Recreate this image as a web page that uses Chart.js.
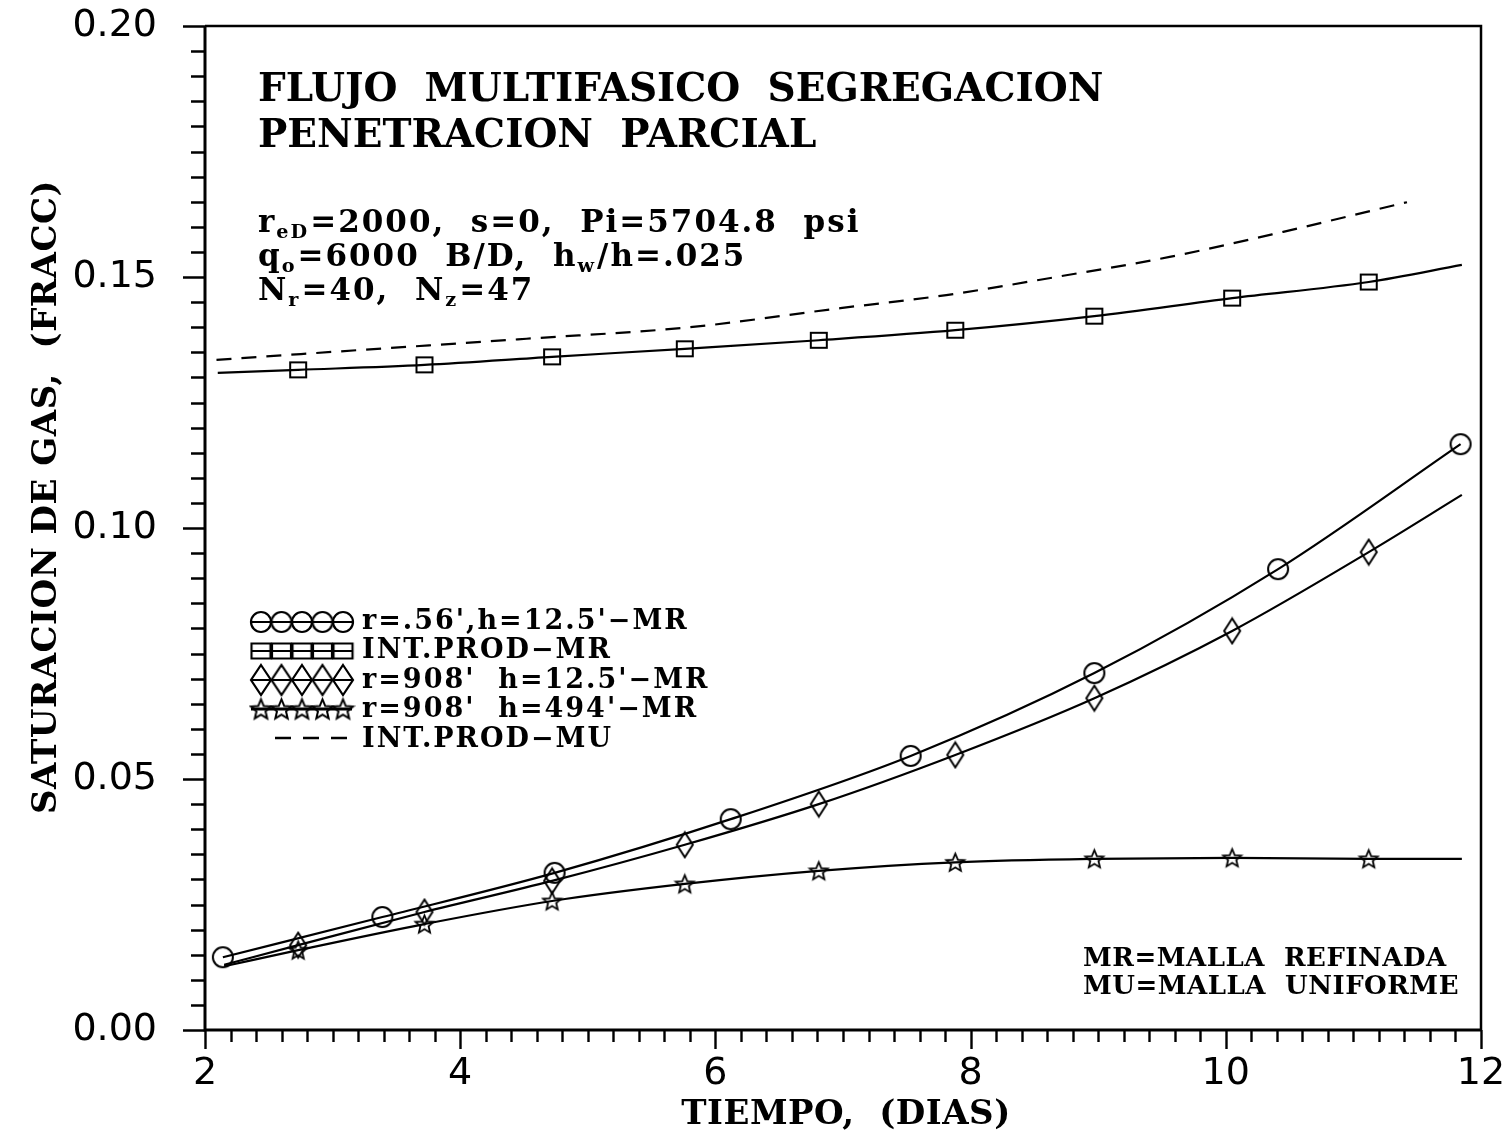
<!DOCTYPE html>
<html>
<head>
<meta charset="utf-8">
<script src="https://cdn.jsdelivr.net/npm/chart.js@4.4.1/dist/chart.umd.min.js"></script>
<style>
  html, body { margin: 0; padding: 0; background: #fff; }
  #wrap { width: 1504px; height: 1132px; }
</style>
</head>
<body>
<div id="wrap"><canvas id="c" width="1504" height="1132"></canvas></div>
<script>
// Tiempo (dias) vs saturacion de gas (fraccion)
const circleT  = [2.14, 3.39, 4.74, 6.12, 7.53, 8.97, 10.41, 11.84];
const circleSg = [0.0145, 0.0225, 0.0313, 0.0420, 0.0546, 0.0711, 0.0918, 0.1167];

const squareT  = [2.10, 2.73, 3.72, 4.72, 5.76, 6.81, 7.88, 8.97, 10.05, 11.12, 11.85];
const squareSg = [0.1309, 0.1315, 0.1325, 0.1341, 0.1357, 0.1374, 0.1394, 0.1422, 0.1458, 0.1490, 0.1524];

const diamondT  = [2.15, 2.73, 3.72, 4.72, 5.76, 6.81, 7.88, 8.97, 10.05, 11.12, 11.85];
const diamondSg = [0.0130, 0.0169, 0.0235, 0.0297, 0.0369, 0.0450, 0.0548, 0.0661, 0.0795, 0.0952, 0.1066];

const starT  = [2.15, 2.73, 3.72, 4.72, 5.76, 6.81, 7.88, 8.97, 10.05, 11.12, 11.85];
const starSg = [0.0127, 0.0159, 0.0211, 0.0257, 0.0291, 0.0317, 0.0334, 0.0341, 0.0343, 0.0341, 0.0341];

const dashT  = [2.09, 3.24, 4.52, 5.80, 6.98, 7.81, 8.67, 9.56, 10.45, 11.42];
const dashSg = [0.1335, 0.1355, 0.1377, 0.1400, 0.1438, 0.1464, 0.1500, 0.1540, 0.1590, 0.1649];

const seriesLabels = [
  "r=.56',h=12.5'\u2212MR",
  "INT.PROD\u2212MR",
  "r=908'  h=12.5'\u2212MR",
  "r=908'  h=494'\u2212MR",
  "INT.PROD\u2212MU"
];

const titleLines = ["FLUJO  MULTIFASICO  SEGREGACION", "PENETRACION  PARCIAL"];
const paramLines = [
  [{t: "r"}, {t: "eD", sub: true}, {t: "=2000,  s=0,  Pi=5704.8  psi"}],
  [{t: "q"}, {t: "o", sub: true}, {t: "=6000  B/D,  h"}, {t: "w", sub: true}, {t: "/h=.025"}],
  [{t: "N"}, {t: "r", sub: true}, {t: "=40,  N"}, {t: "z", sub: true}, {t: "=47"}]
];
const noteLines = ["MR=MALLA  REFINADA", "MU=MALLA  UNIFORME"];
const xTitle = "TIEMPO,  (DIAS)";
const yTitle = "SATURACION DE GAS,  (FRACC)";

const SERIF = '"DejaVu Serif", "Liberation Serif", serif';
const SANS = '"DejaVu Sans", "Liberation Sans", sans-serif';

// hollow marker glyphs drawn on small canvases
function marker(kind, w, h, lw) {
  const c = document.createElement('canvas');
  c.width = Math.ceil(w + 4);
  c.height = Math.ceil(h + 4);
  const g = c.getContext('2d');
  g.strokeStyle = '#000';
  g.lineWidth = lw || 2;
  g.lineJoin = 'miter';
  g.translate(c.width / 2, c.height / 2);
  g.beginPath();
  if (kind === 'circle') {
    g.arc(0, 0, w / 2, 0, Math.PI * 2);
  } else if (kind === 'rect') {
    g.rect(-w / 2, -h / 2, w, h);
  } else if (kind === 'diamond') {
    g.moveTo(0, -h / 2); g.lineTo(w / 2, 0); g.lineTo(0, h / 2); g.lineTo(-w / 2, 0); g.closePath();
  } else if (kind === 'star') {
    const R = w / 2, r = R * 0.45;
    for (let i = 0; i < 10; i++) {
      const a = -Math.PI / 2 + i * Math.PI / 5;
      const rr = i % 2 === 0 ? R : r;
      const px = Math.cos(a) * rr, py = Math.sin(a) * rr + R * 0.08;
      if (i === 0) g.moveTo(px, py); else g.lineTo(px, py);
    }
    g.closePath();
  }
  g.stroke();
  return c;
}

const plotMarks = {
  circle: marker('circle', 20, 20, 2),
  rect: marker('rect', 16, 15, 2),
  diamond: marker('diamond', 16, 25, 2),
  star: marker('star', 19, 19, 1.8)
};
const legendMarks = {
  circle: marker('circle', 20, 20, 2.2),
  rect: marker('rect', 19, 15, 2.2),
  diamond: marker('diamond', 20, 30, 2.2),
  star: marker('star', 21, 21, 2)
};

function pts(xs, ys) { return xs.map((x, i) => ({x: x, y: ys[i]})); }
function innerRadii(n) { return Array.from({length: n}, (_, i) => (i === 0 || i === n - 1) ? 0 : 6); }

const lineBase = {
  borderColor: '#000',
  borderWidth: 2.2,
  cubicInterpolationMode: 'monotone',
  fill: false,
  pointBorderColor: '#000',
  pointBackgroundColor: 'rgba(0,0,0,0)',
  pointHoverRadius: 0
};

const datasets = [
  Object.assign({}, lineBase, {label: seriesLabels[0], data: pts(circleT, circleSg), pointStyle: plotMarks.circle, pointRadius: 6, legendKind: 'circle'}),
  Object.assign({}, lineBase, {label: seriesLabels[1], data: pts(squareT, squareSg), pointStyle: plotMarks.rect, pointRadius: innerRadii(squareT.length), legendKind: 'rect'}),
  Object.assign({}, lineBase, {label: seriesLabels[2], data: pts(diamondT, diamondSg), pointStyle: plotMarks.diamond, pointRadius: innerRadii(diamondT.length), legendKind: 'diamond'}),
  Object.assign({}, lineBase, {label: seriesLabels[3], data: pts(starT, starSg), pointStyle: plotMarks.star, pointRadius: innerRadii(starT.length), legendKind: 'star'}),
  Object.assign({}, lineBase, {label: seriesLabels[4], data: pts(dashT, dashSg), pointRadius: 0, borderDash: [15, 10], legendKind: 'dash'})
];

function drawRich(ctx, parts, x, y, size) {
  let cx = x;
  for (const p of parts) {
    const s = p.sub ? size * 0.62 : size;
    ctx.font = 'bold ' + s + 'px ' + SERIF;
    ctx.fillText(p.t, cx, p.sub ? y + size * 0.2 : y);
    cx += ctx.measureText(p.t).width + (p.sub ? 1 : 0);
  }
}

// scales keep no extra label padding so the plot box sits where the layout puts it
function noPad(s) { s.paddingTop = 0; s.paddingBottom = 0; s.paddingLeft = 0; s.paddingRight = 0; }

const decor = {
  id: 'decor',
  afterDraw(chart) {
    const ctx = chart.ctx;
    const a = chart.chartArea;
    const xs = chart.scales.x, ys = chart.scales.y;
    ctx.save();
    ctx.strokeStyle = '#000';
    ctx.fillStyle = '#000';
    ctx.lineCap = 'butt';

    // frame
    ctx.lineWidth = 3;
    ctx.beginPath();
    ctx.moveTo(a.left, a.top); ctx.lineTo(a.left, a.bottom); ctx.lineTo(a.right, a.bottom);
    ctx.stroke();
    ctx.lineWidth = 2.5;
    ctx.beginPath();
    ctx.moveTo(a.left, a.top); ctx.lineTo(a.right, a.top); ctx.lineTo(a.right, a.bottom);
    ctx.stroke();

    // tick marks: y every 0.005, x every 0.2
    ctx.lineWidth = 2.4;
    ctx.beginPath();
    for (let i = 0; i <= 40; i++) {
      const y = Math.round(ys.getPixelForValue(i * 0.005)) + 0.5;
      const len = i % 10 === 0 ? 22 : 14;
      ctx.moveTo(a.left - len, y); ctx.lineTo(a.left, y);
    }
    for (let i = 0; i <= 50; i++) {
      const x = Math.round(xs.getPixelForValue(2 + i * 0.2)) + 0.5;
      const len = i % 10 === 0 ? 19 : 12;
      ctx.moveTo(x, a.bottom); ctx.lineTo(x, a.bottom + len);
    }
    ctx.stroke();

    // title block
    ctx.textAlign = 'left';
    ctx.textBaseline = 'alphabetic';
    ctx.font = 'bold 39px ' + SERIF;
    ctx.letterSpacing = '0px';
    ctx.fillText(titleLines[0], 258, 101);
    ctx.fillText(titleLines[1], 258, 147);

    ctx.letterSpacing = '2px';
    paramLines.forEach((parts, i) => drawRich(ctx, parts, 258, 232 + i * 34, 31));

    ctx.letterSpacing = '0.5px';
    ctx.font = 'bold 26px ' + SERIF;
    ctx.fillText(noteLines[0], 1083, 966);
    ctx.fillText(noteLines[1], 1083, 994);

    // legend
    const rowsY = [622, 651, 680, 709, 738];
    const baseY = [629, 658, 688, 717, 747];
    chart.data.datasets.forEach((ds, i) => {
      const y = rowsY[i];
      if (ds.legendKind === 'dash') {
        ctx.lineWidth = 2.4;
        ctx.beginPath();
        [275, 303, 331].forEach(x0 => { ctx.moveTo(x0, y); ctx.lineTo(x0 + 16, y); });
        ctx.stroke();
      } else {
        ctx.lineWidth = ds.legendKind === 'star' ? 3 : 2;
        ctx.beginPath(); ctx.moveTo(251, y); ctx.lineTo(352, y); ctx.stroke();
        const img = legendMarks[ds.legendKind];
        for (let k = 0; k < 5; k++) {
          const cx = 261 + k * 20.5;
          ctx.drawImage(img, cx - img.width / 2, y - img.height / 2);
        }
      }
      ctx.font = 'bold 27px ' + SERIF;
      ctx.letterSpacing = '2px';
      ctx.fillText(ds.label, 362, baseY[i]);
    });

    // axis titles
    ctx.letterSpacing = '0.5px';
    ctx.textAlign = 'center';
    ctx.font = 'bold 34px ' + SERIF;
    ctx.fillText(xTitle, 846, 1124);
    ctx.save();
    ctx.translate(56, 497);
    ctx.rotate(-Math.PI / 2);
    ctx.font = 'bold 34px ' + SERIF;
    ctx.fillText(yTitle, 0, 0);
    ctx.restore();

    ctx.restore();
  }
};

new Chart(document.getElementById('c'), {
  type: 'line',
  data: {datasets: datasets},
  options: {
    responsive: false,
    animation: false,
    devicePixelRatio: 1,
    layout: {padding: {left: 0, top: 26, right: 23, bottom: 0}},
    plugins: {legend: {display: false}, tooltip: {enabled: false}},
    elements: {line: {tension: 0}},
    scales: {
      x: {
        type: 'linear', min: 2, max: 12,
        border: {display: false},
        grid: {display: false, drawTicks: false},
        ticks: {stepSize: 2, maxRotation: 0, autoSkip: false, padding: 21, color: '#000',
                font: {family: SANS, size: 38}},
        afterFit(s) { s.height = 102; noPad(s); }
      },
      y: {
        type: 'linear', min: 0, max: 0.2,
        border: {display: false},
        grid: {display: false, drawTicks: false},
        ticks: {stepSize: 0.05, padding: 48, color: '#000',
                font: {family: SANS, size: 38},
                callback: v => v.toFixed(2)},
        afterFit(s) { s.width = 205; noPad(s); }
      }
    }
  },
  plugins: [decor]
});
</script>
</body>
</html>
